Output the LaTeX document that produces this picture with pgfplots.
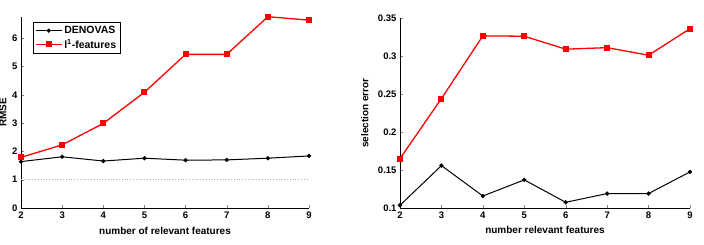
\documentclass[border=0pt]{standalone}
\usepackage{fontspec}
\setmainfont{Liberation Sans}
\usepackage{pgfplots}
\pgfplotsset{compat=1.18}
\begin{document}
\begin{tikzpicture}
\clip (0pt,0pt) rectangle (704pt,244pt);
\pgfplotsset{
  myax/.style={
    scale only axis,
    axis x line*=bottom, axis y line*=left,
    axis line style={-, black, line width=0.5pt},
    tick align=inside,
    major tick length=3pt,
    xmin=2, xmax=9, xtick={2,...,9},
    /pgf/number format/assume math mode=true,
    tick label style={font=\bfseries\fontsize{9.5}{11}\selectfont},
    label style={font=\bfseries\fontsize{10}{12}\selectfont},
    clip=false,
  }
}
\begin{axis}[myax, at={(21pt,36pt)}, anchor=south west, width=288pt, height=191pt,
  ymin=0, ymax=6.75, ytick={0,...,6},
  xlabel={number of relevant features},
  ylabel={RMSE},
  xlabel style={at={(axis description cs:0.5,-0.12)}, anchor=center},
  ylabel style={at={(axis description cs:-0.0625,0.5)}, anchor=center},
  legend style={at={(axis description cs:0.042,0.974)}, anchor=north west,
    draw=black, line width=0.5pt, font=\bfseries\fontsize{10.5}{12}\selectfont,
    inner sep=2pt, row sep=0pt},
  legend cell align=left,
  legend image code/.code={\draw[mark repeat=2,mark phase=2] plot coordinates {(0cm,0cm)(0.45cm,0cm)(0.9cm,0cm)};},
]
\addplot[gray!60, dotted, line width=0.8pt, forget plot] coordinates {(2,1) (9,1)};
\addplot[black, line width=1pt, mark=*, mark size=1.6pt] coordinates {
(2,1.64) (3,1.81) (4,1.66) (5,1.76) (6,1.69) (7,1.70) (8,1.76) (9,1.84)};
\addlegendentry{DENOVAS}
\addplot[red, line width=1.3pt, mark=square*, mark size=2.3pt] coordinates {
(2,1.79) (3,2.23) (4,2.99) (5,4.09) (6,5.43) (7,5.43) (8,6.76) (9,6.64)};
\addlegendentry{l\textsuperscript{1}-features}
\end{axis}
\begin{axis}[myax, at={(400pt,36pt)}, anchor=south west, width=290pt, height=190pt,
  ymin=0.1, ymax=0.35, ytick={0.1,0.15,0.2,0.25,0.3,0.35},
  yticklabel style={/pgf/number format/fixed, /pgf/number format/precision=2},
  xlabel={number relevant features},
  ylabel={selection error},
  xlabel style={at={(axis description cs:0.5,-0.116)}, anchor=center},
  ylabel style={at={(axis description cs:-0.121,0.5)}, anchor=center},
]
\addplot[red, line width=1.3pt, mark=square*, mark size=2.3pt] coordinates {
(2,0.165) (3,0.244) (4,0.3265) (5,0.326) (6,0.309) (7,0.311) (8,0.301) (9,0.336)};
\addplot[black, line width=1pt, mark=*, mark size=1.6pt] coordinates {
(2,0.1036) (3,0.1558) (4,0.1158) (5,0.137) (6,0.1075) (7,0.119) (8,0.119) (9,0.1475)};
\end{axis}
\end{tikzpicture}
\end{document}
